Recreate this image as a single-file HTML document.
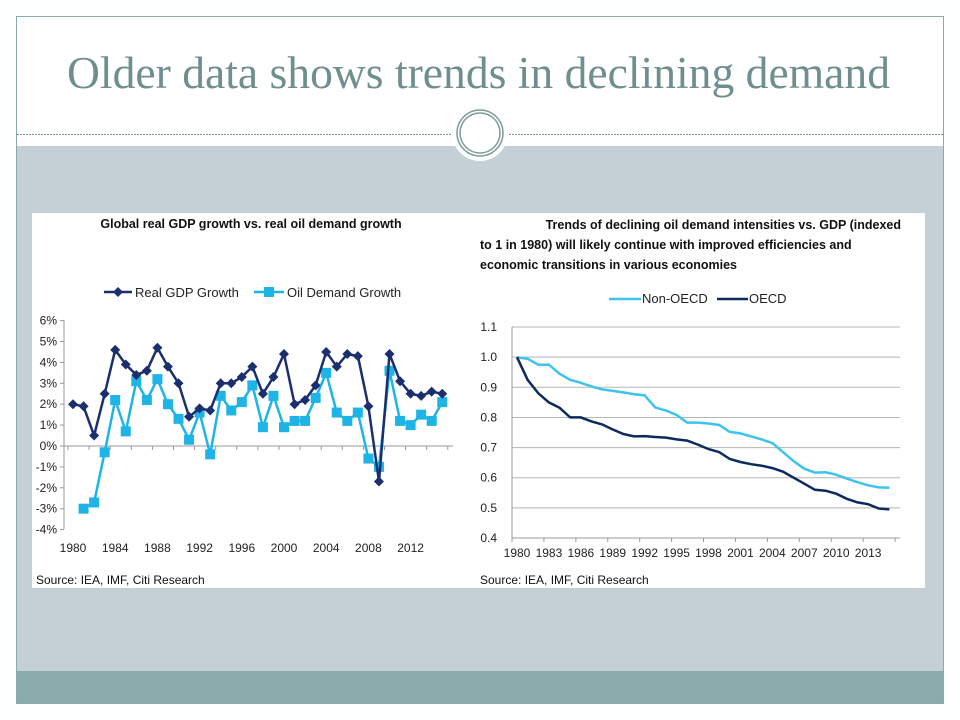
<!DOCTYPE html>
<html><head><meta charset="utf-8"><style>
html,body{margin:0;padding:0;background:#fff;}
svg{display:block;font-family:"Liberation Sans",Arial,sans-serif;}
</style></head><body>
<svg id="s" width="960" height="720" viewBox="0 0 960 720" xmlns="http://www.w3.org/2000/svg">
<rect x="0" y="0" width="960" height="720" fill="#fdfefe"/>
<rect x="16.5" y="16.5" width="927" height="687" fill="#fff" stroke="#8aa9a9" stroke-width="1"/>
<rect x="17" y="146" width="926" height="525" fill="#c5d0d6"/>
<rect x="17" y="671" width="926" height="32" fill="#8aacad"/>
<line x1="17" y1="134.5" x2="943" y2="134.5" stroke="#7f9a9a" stroke-width="1" stroke-dasharray="2,1"/>
<circle cx="480" cy="133" r="28" fill="#fff"/>
<circle cx="480" cy="133" r="23" fill="#fff" stroke="#7f9a9a" stroke-width="1.5"/>
<circle cx="480" cy="133" r="20" fill="none" stroke="#7f9a9a" stroke-width="1.5"/>
<text x="67" y="88" textLength="823" lengthAdjust="spacingAndGlyphs" font-family="Liberation Serif,serif" font-size="45" fill="#6e8f8d">Older data shows trends in declining demand</text>
<rect x="32" y="213" width="893" height="375" fill="#fff"/>
<!-- left chart -->
<text x="251" y="228" text-anchor="middle" font-size="12.5" font-weight="bold" fill="#111">Global real GDP growth vs. real oil demand growth</text>
<line x1="104" y1="292" x2="132" y2="292" stroke="#1b2f6e" stroke-width="2.5"/>
<path d="M118 287 L123 292 L118 297 L113 292Z" fill="#1b2f6e"/>
<text x="135" y="297" font-size="13" fill="#222">Real GDP Growth</text>
<line x1="254" y1="292" x2="284" y2="292" stroke="#1fb4e6" stroke-width="2.5"/>
<rect x="264" y="287" width="10" height="10" fill="#1fb4e6"/>
<text x="287" y="297" font-size="13" fill="#222">Oil Demand Growth</text>
<line x1="64" y1="320" x2="64" y2="529" stroke="#999" stroke-width="1"/>
<line x1="64" y1="446" x2="453" y2="446" stroke="#999" stroke-width="1"/>
<g id="lt" font-size="12" fill="#222" text-anchor="end"></g>
<g id="lp"></g>
<text x="36" y="584" font-size="12" fill="#111">Source: IEA, IMF, Citi Research</text>
<!-- right chart -->
<text x="901" y="229" text-anchor="end" font-size="12.5" font-weight="bold" fill="#111">Trends of declining oil demand intensities vs. GDP (indexed</text>
<text x="480" y="249" font-size="12.5" font-weight="bold" fill="#111">to 1 in 1980) will likely continue with improved efficiencies and</text>
<text x="480" y="269" font-size="12.5" font-weight="bold" fill="#111">economic transitions in various economies</text>
<line x1="609" y1="299" x2="641" y2="299" stroke="#3ec3ec" stroke-width="2.5"/>
<text x="642" y="303" font-size="13" fill="#222">Non-OECD</text>
<line x1="717" y1="299" x2="748" y2="299" stroke="#0c2a5e" stroke-width="2.5"/>
<text x="749" y="303" font-size="13" fill="#222">OECD</text>
<g id="rt" font-size="12" fill="#222"></g>
<g id="rp"></g>
<text x="480" y="584" font-size="12" fill="#111">Source: IEA, IMF, Citi Research</text>
</svg>
<script>
var NS="http://www.w3.org/2000/svg";
function el(p,t,a,txt){var e=document.createElementNS(NS,t);for(var k in a)e.setAttribute(k,a[k]);if(txt!=null)e.textContent=txt;p.appendChild(e);return e;}
var lt=document.getElementById('lt'),lp=document.getElementById('lp');
function ly(v){return 446-v*20.9;}
function lx(y){return 73+(y-1980)*10.55;}
for(var v=6;v>=-4;v--){var y=ly(v);el(lt,'line',{x1:60,x2:64,y1:y,y2:y,stroke:'#999'});el(lt,'text',{x:57,y:y+4},v+'%');}
for(var yr=1980;yr<=2012;yr+=4){el(lt,'text',{x:lx(yr),y:552,'text-anchor':'middle'},''+yr);}
for(var yr=1980;yr<=2016;yr+=2){var x=lx(yr)-5;el(lt,'line',{x1:x,x2:x,y1:446,y2:450,stroke:'#999'});}
var gdp=[2.0,1.9,0.5,2.5,4.6,3.9,3.4,3.6,4.7,3.8,3.0,1.4,1.8,1.7,3.0,3.0,3.3,3.8,2.5,3.3,4.4,2.0,2.2,2.9,4.5,3.8,4.4,4.3,1.9,-1.7,4.4,3.1,2.5,2.4,2.6,2.5];
var oil=[-3.0,-2.7,-0.3,2.2,0.7,3.1,2.2,3.2,2.0,1.3,0.3,1.6,-0.4,2.4,1.7,2.1,2.9,0.9,2.4,0.9,1.2,1.2,2.3,3.5,1.6,1.2,1.6,-0.6,-1.0,3.6,1.2,1.0,1.5,1.2,2.1];
var p=gdp.map(function(v,i){return lx(1980+i).toFixed(1)+','+ly(v).toFixed(1);}).join(' ');
var q=oil.map(function(v,i){return lx(1981+i).toFixed(1)+','+ly(v).toFixed(1);}).join(' ');
el(lp,'polyline',{points:q,fill:'none',stroke:'#1fb4e6','stroke-width':2.5});
oil.forEach(function(v,i){el(lp,'rect',{x:lx(1981+i)-5,y:ly(v)-5,width:10,height:10,fill:'#1fb4e6'});});
el(lp,'polyline',{points:p,fill:'none',stroke:'#1b2f6e','stroke-width':2.5});
gdp.forEach(function(v,i){var x=lx(1980+i),y=ly(v);el(lp,'path',{d:'M'+x+' '+(y-5)+'L'+(x+5)+' '+y+'L'+x+' '+(y+5)+'L'+(x-5)+' '+y+'Z',fill:'#1b2f6e'});});
var rt=document.getElementById('rt'),rp=document.getElementById('rp');
function ry(v){return 538-(v-0.4)*301.4;}
function rx(y){return 517+(y-1980)*10.64;}
for(var i=0;i<=7;i++){var v=0.4+i*0.1,y=ry(v);if(i>0)el(rt,'line',{x1:512,x2:900,y1:y,y2:y,stroke:'#b5b5b5'});el(rt,'text',{x:497,y:y+4,'text-anchor':'end'},v.toFixed(1));}
el(rt,'line',{x1:512,x2:512,y1:ry(1.1),y2:538,stroke:'#999'});
el(rt,'line',{x1:512,x2:900,y1:538,y2:538,stroke:'#999'});
for(var yr=1980;yr<=2013;yr+=3){el(rt,'text',{x:rx(yr),y:557,'text-anchor':'middle'},''+yr);}
for(var yr=1980;yr<=2016;yr+=3){var x=rx(yr)-5;el(rt,'line',{x1:x,x2:x,y1:538,y2:542,stroke:'#999'});}
var non=[1.0,.995,.975,.975,.945,.925,.915,.903,.893,.888,.883,.877,.873,.833,.823,.808,.783,.783,.78,.775,.752,.747,.737,.727,.715,.685,.655,.63,.617,.618,.61,.597,.585,.575,.568,.567];
var oe=[1.0,.925,.88,.85,.832,.8,.8,.787,.777,.76,.745,.737,.738,.735,.733,.727,.723,.71,.695,.685,.662,.652,.645,.64,.632,.62,.6,.58,.56,.557,.547,.53,.518,.512,.498,.495];
function pts(a){return a.map(function(v,i){return rx(1980+i).toFixed(1)+','+ry(v).toFixed(1);}).join(' ');}
el(rp,'polyline',{points:pts(non),fill:'none',stroke:'#3ec3ec','stroke-width':2.5});
el(rp,'polyline',{points:pts(oe),fill:'none',stroke:'#0c2a5e','stroke-width':2.5});
</script>
</body></html>
